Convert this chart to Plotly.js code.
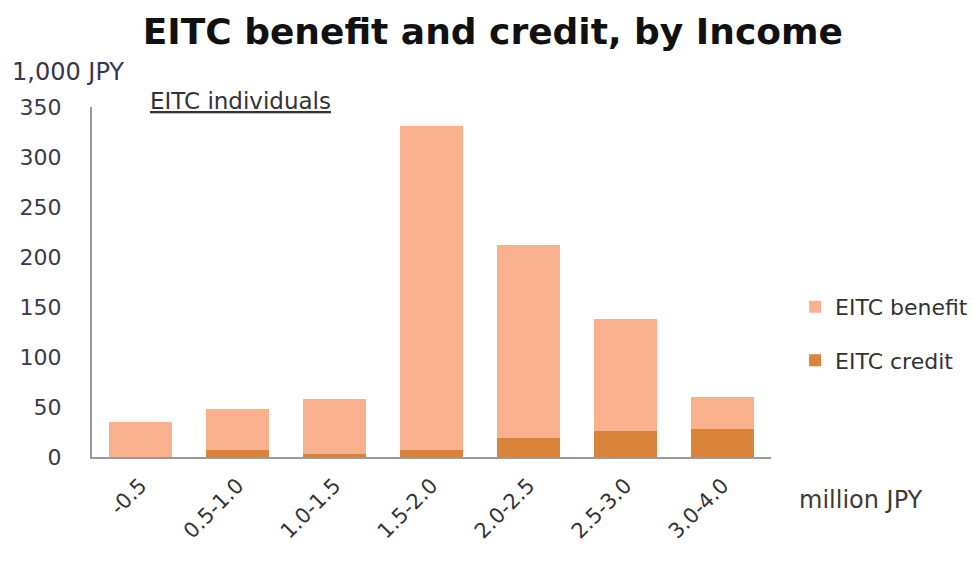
<!DOCTYPE html>
<html><head><meta charset="utf-8">
<script src="https://cdn.plot.ly/plotly-3.0.1.min.js"></script>
<style>html,body{margin:0;padding:0;background:#fff}#chart{width:972px;height:562px}</style>
</head><body><div id="chart"></div>
<script>
const categories = ["-0.5", "0.5-1.0", "1.0-1.5", "1.5-2.0", "2.0-2.5", "2.5-3.0", "3.0-4.0"];
const eitcCredit = [0, 7, 3, 7, 19, 26, 28];
const eitcBenefit = [35, 41, 55, 324, 193, 112, 32];

const FONT = "'DejaVu Sans', sans-serif";

const traces = [
  {type: "bar", name: "EITC credit", x: categories, y: eitcCredit,
   marker: {color: "#D9843A"}, legendgroup: "c", legendrank: 2, hoverinfo: "y"},
  {type: "bar", name: "EITC benefit", x: categories, y: eitcBenefit,
   marker: {color: "#F8B18C"}, legendgroup: "b", legendrank: 1, hoverinfo: "y"}
];

const layout = {
  width: 972, height: 562,
  margin: {l: 92, r: 201, t: 107, b: 105},
  paper_bgcolor: "#fff", plot_bgcolor: "#fff",
  barmode: "stack", bargap: 0.36,
  title: {text: "<b>EITC benefit and credit, by Income</b>", x: 0.507, xanchor: "center",
          y: 0.945, yanchor: "middle", font: {family: FONT, size: 36, color: "#111"}},
  font: {family: FONT, color: "#404040"},
  xaxis: {showline: true, linecolor: "#9a9a9a", linewidth: 2, ticks: "", tickangle: -45,
          tickfont: {size: 21, color: "#333"}, showgrid: false, fixedrange: true,
          ticklabelstandoff: 6},
  yaxis: {range: [0, 350], dtick: 50, showline: true, linecolor: "#9a9a9a", linewidth: 2,
          ticks: "", showgrid: false, zeroline: false, tickfont: {size: 22, color: "#3a3a48"},
          ticklabelstandoff: 24},
  showlegend: true,
  legend: {xref: "container", yref: "container", x: 0.818, y: 0.406,
           xanchor: "left", yanchor: "middle",
           traceorder: "normal+grouped", tracegroupgap: 22,
           font: {size: 22, color: "#333"}, itemwidth: 30},
  annotations: [
    {text: "1,000 JPY", xref: "paper", yref: "paper", x: -0.121, y: 1.1, xanchor: "left",
     yanchor: "middle", showarrow: false, font: {size: 24, color: "#3a3550"}},
    {text: "<u>EITC individuals</u>", xref: "paper", yref: "paper", x: 0.0825, y: 1.017,
     xanchor: "left", yanchor: "middle", showarrow: false, font: {size: 23, color: "#333"}},
    {text: "million JPY", xref: "paper", yref: "paper", x: 1.038, y: -0.123, xanchor: "left",
     yanchor: "middle", showarrow: false, font: {size: 24, color: "#403a30"}}
  ]
};

Plotly.newPlot("chart", traces, layout, {displayModeBar: false, staticPlot: true});
</script></body></html>
